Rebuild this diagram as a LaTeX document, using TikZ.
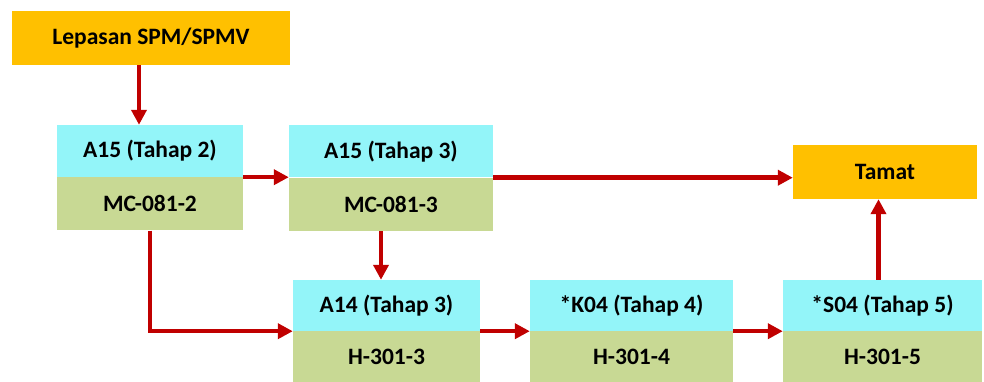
\documentclass[tikz,border=0pt]{standalone}
\usepackage{fontspec}
\setmainfont{Carlito}
\usetikzlibrary{arrows.meta}
\definecolor{endYellow}{HTML}{FFC000}
\definecolor{gradeCyan}{HTML}{93F5F9}
\definecolor{codeGreen}{HTML}{C8D994}
\definecolor{flowRed}{HTML}{C00000}
\begin{document}
\begin{tikzpicture}[x=1pt,y=-1pt]
\tikzstyle{ends}=[rectangle,fill=endYellow,inner sep=0pt,font=\fontsize{23.5}{28}\selectfont\bfseries]
\tikzstyle{grade}=[rectangle,fill=gradeCyan,inner sep=0pt,minimum height=52pt,font=\fontsize{23.5}{28}\selectfont\bfseries]
\tikzstyle{code}=[rectangle,fill=codeGreen,inner sep=0pt,minimum height=53pt,font=\fontsize{23.5}{28}\selectfont\bfseries]
\tikzstyle{flow}=[draw=flowRed,line width=4.5pt,-{Triangle[length=15pt,width=15pt]}]

\useasboundingbox (0,0) rectangle (984,382);

%start and end.
\node[ends,minimum width=278pt,minimum height=54pt] (lepasan) at (151,38) {Lepasan SPM/SPMV};
\node[ends,minimum width=184pt,minimum height=54pt] (tamat) at (885,172) {Tamat};

%first row.
\node[grade,minimum width=186pt] (a15TwoTop) at (150,151) {A15 (Tahap 2)};
\node[code,minimum width=186pt,anchor=north] (a15TwoCode) at (a15TwoTop.south) {MC-081-2};
\node[grade,minimum width=204pt] (a15ThreeTop) at (391,151.5) {A15 (Tahap 3)};
\node[code,minimum width=204pt,anchor=north] (a15ThreeCode) at (a15ThreeTop.south) {MC-081-3};

%second row.
\node[grade,minimum width=187pt,minimum height=51pt] (a14Top) at (386.5,305.5) {A14 (Tahap 3)};
\node[code,minimum width=187pt,minimum height=51pt,anchor=north] (a14Code) at (a14Top.south) {H-301-3};
\node[grade,minimum width=203pt,minimum height=51pt] (k04Top) at (631.5,305.5) {*K04 (Tahap 4)};
\node[code,minimum width=203pt,minimum height=51pt,anchor=north] (k04Code) at (k04Top.south) {H-301-4};
\node[grade,minimum width=199pt,minimum height=51pt] (s04Top) at (882.5,305.5) {*S04 (Tahap 5)};
\node[code,minimum width=199pt,minimum height=51pt,anchor=north] (s04Code) at (s04Top.south) {H-301-5};

%arrows.
\draw[flow] ([xshift=-12pt]lepasan.south) -- ([xshift=-12pt]lepasan.south |- a15TwoTop.north);
\draw[flow] (a15TwoCode.north east) -- (a15TwoCode.north east -| a15ThreeTop.west);
\draw[flow] (a15TwoCode.south) |- (a14Code.north west);
\draw[flow] ([xshift=-10pt]a15ThreeCode.south) -- ([xshift=-10pt]a15ThreeCode.south |- a14Top.north);
\draw[flow] (a15ThreeCode.north east) -- (a15ThreeCode.north east -| tamat.west);
\draw[flow] (a14Code.north east) -- (k04Code.north west);
\draw[flow] (k04Code.north east) -- (s04Code.north west);
\draw[flow] ([xshift=-4pt]s04Top.north) -- ([xshift=-4pt]s04Top.north |- tamat.south);

\end{tikzpicture}
\end{document}
